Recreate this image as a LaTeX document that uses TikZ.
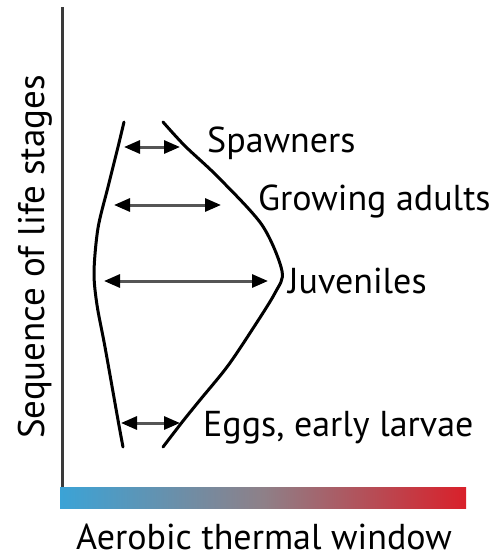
\documentclass[tikz,border=0pt]{standalone}
\usepackage{fontspec}
\setmainfont{PT Sans}
\usetikzlibrary{arrows.meta}
\definecolor{barblue}{HTML}{3BA3D6}
\definecolor{barmid}{HTML}{8E8088}
\definecolor{barred}{HTML}{D9202A}
\definecolor{axisgray}{HTML}{3A3A3A}
\definecolor{arrowgray}{HTML}{555555}
\tikzset{
  curve/.style={line width=3pt, black, line join=round, line cap=round},
  window/.style={line width=3pt, arrowgray,
    {Triangle[length=16pt,width=13pt,black]}-{Triangle[length=16pt,width=13pt,black]}},
  stagelabel/.style={anchor=base west, inner sep=0pt, font=\fontsize{36}{40}\selectfont, text=black},
  axislabel/.style={inner sep=0pt, font=\fontsize{36}{40}\selectfont, text=black}
}
\begin{document}
\begin{tikzpicture}[x=1pt,y=-1pt]
\useasboundingbox (0,0) rectangle (493,558);
% colour bar
\shade[left color=barblue, right color=barred, middle color=barmid] (60,487) rectangle (466,508);
% axis
\draw[line width=3pt, axisgray] (62,7) -- (62,487);
% left curve
\draw[curve] plot[smooth, tension=0.5] coordinates {(124,122) (118,147) (108,187) (98,228) (94,272) (97,305) (105,347) (118,420) (123,447)};
% right curve
\draw[curve] plot[smooth, tension=0.5] coordinates {(163,122) (185,146) (218,177) (262,225) (282,271) (275,293) (250,333) (227,367) (200,400) (183,421) (163,447)};
% arrow endpoints
\coordinate (s1) at (124,147); \coordinate (s2) at (180,147);
\coordinate (g1) at (114,205); \coordinate (g2) at (221,205);
\coordinate (j1) at (104,281); \coordinate (j2) at (268,281);
\coordinate (e1) at (121,423); \coordinate (e2) at (180,423);
\draw[window] (s1) -- (s2);
\draw[window] (g1) -- (g2);
\draw[window] (j1) -- (j2);
\draw[window] (e1) -- (e2);
% labels
\node[stagelabel] (spawn) at (207,152) {Spawners};
\node[stagelabel] (grow) at (258,210) {Growing adults};
\node[stagelabel] (juv) at (288,293) {Juveniles};
\node[stagelabel] (eggs) at (203,436) {Eggs, early larvae};
\node[axislabel, anchor=base] (xlab) at (264,549) {Aerobic thermal window};
\node[axislabel, anchor=base, rotate=90] (ylab) at (45,257) {\fontsize{37}{40}\selectfont Sequence of life stages};
\end{tikzpicture}
\end{document}
